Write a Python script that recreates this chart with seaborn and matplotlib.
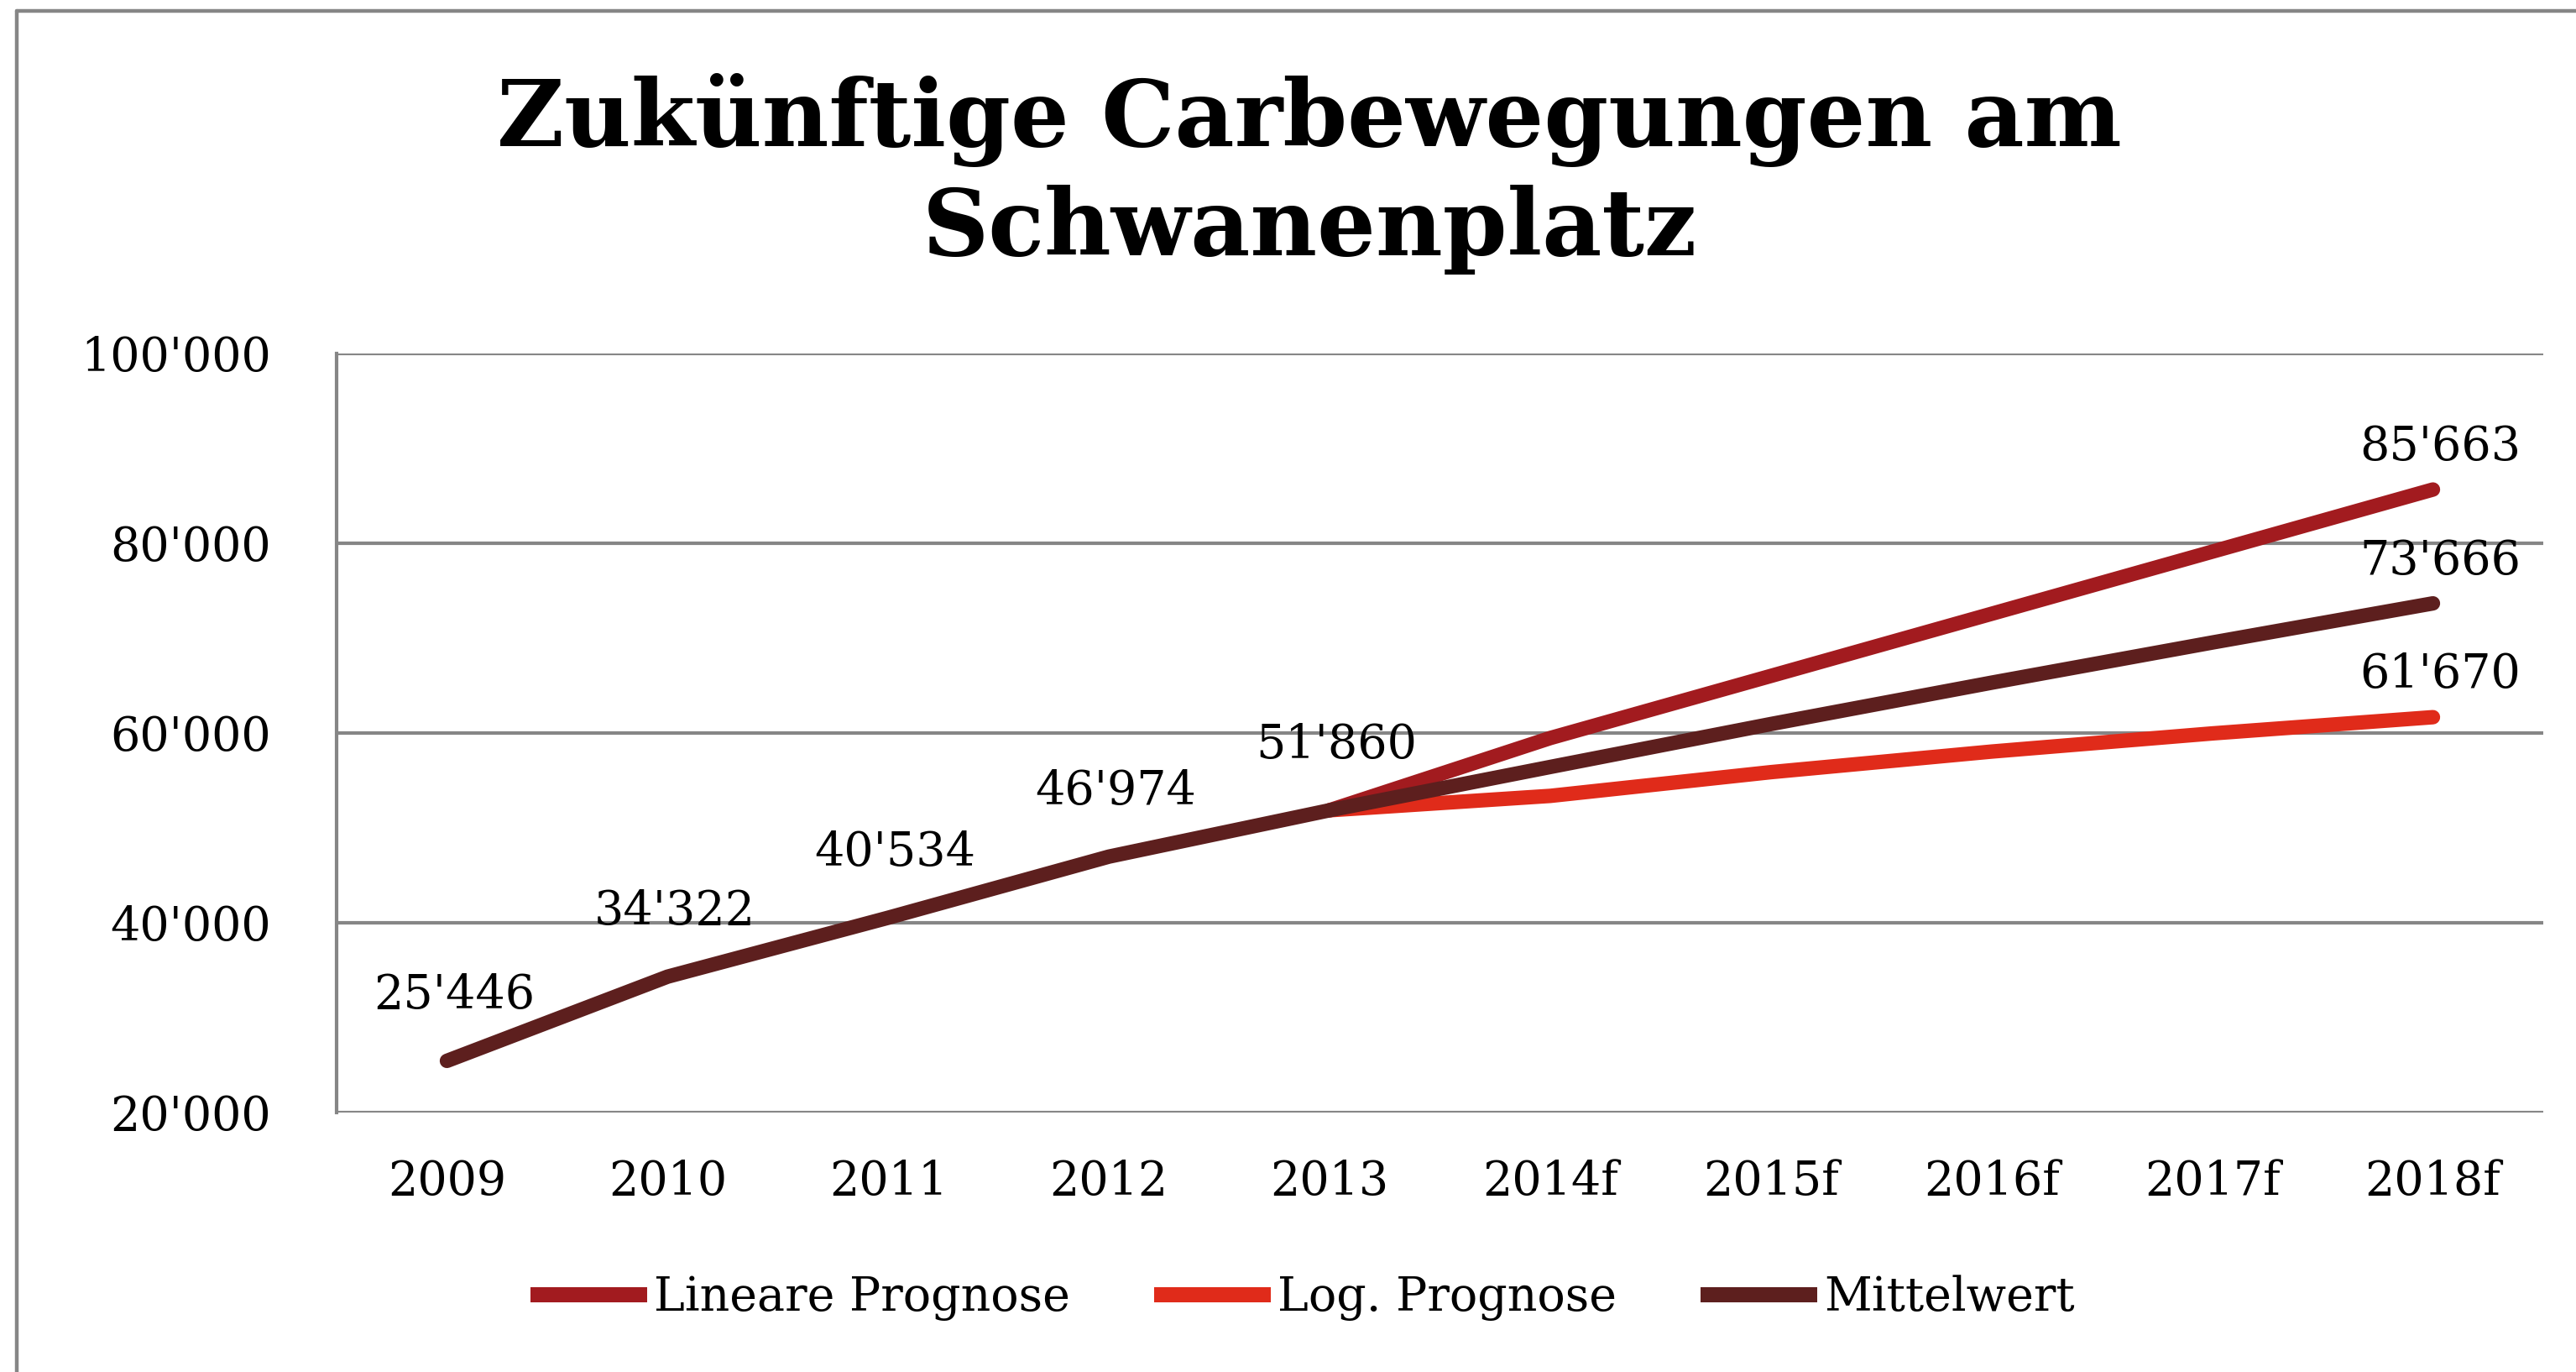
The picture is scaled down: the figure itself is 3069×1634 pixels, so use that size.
import matplotlib
matplotlib.use("Agg")
import matplotlib.pyplot as plt
from matplotlib.lines import Line2D
import numpy as np
import pandas as pd
import seaborn as sns

# values
years = ["2009", "2010", "2011", "2012", "2013", "2014f", "2015f", "2016f", "2017f", "2018f"]
history = [25446, 34322, 40534, 46974, 51860]
linear_fc = [51860, 59471, 66019, 72567, 79115, 85663]
log_fc = [51860, 53375, 55877, 58045, 59958, 61670]
mean_fc = [51860, 56423, 60948, 65306, 69537, 73666]

series_names = ["Lineare Prognose", "Log. Prognose", "Mittelwert"]
colors = ["#A21B1F", "#E02B1A", "#5D1F1E"]
ytick_vals = [20000, 40000, 60000, 80000, 100000]


def fmt(v):
    return "{:,}".format(int(v)).replace(",", "'")


# long form table for seaborn
rows = []
start = len(history) - 1
for name, vals in zip(series_names, [linear_fc, log_fc, mean_fc]):
    for i, v in enumerate(vals):
        rows.append({"pos": start + i, "Wert": v, "Serie": name})
for i, v in enumerate(history[:-1]):
    rows.append({"pos": i, "Wert": v, "Serie": "Mittelwert"})
df = pd.DataFrame(rows)

sns.set_theme(style="white")
plt.rcParams["font.family"] = ["DejaVu Serif"]
plt.rcParams["text.color"] = "black"
plt.rcParams["xtick.color"] = "black"
plt.rcParams["ytick.color"] = "black"

DPI = 200
fig = plt.figure(figsize=(3069 / DPI, 1634 / DPI), dpi=DPI)
ax = fig.add_axes([401 / 3069, 1 - 1325 / 1634, (3030 - 401) / 3069, (1325 - 421) / 1634])

sns.lineplot(data=df, x="pos", y="Wert", hue="Serie", hue_order=series_names,
             palette=colors, linewidth=6.2, sort=True, legend=False, ax=ax,
             solid_capstyle="round")

ax.set_xlim(-0.5, len(years) - 0.5)
ax.set_ylim(20000, 100000)
ax.set_xticks(range(len(years)))
ax.set_xticklabels(years, fontsize=20, color="black")
ax.set_yticks(ytick_vals)
ax.set_yticklabels([fmt(v) for v in ytick_vals], fontsize=20, color="black")
ax.tick_params(axis="x", length=0, pad=20)
ax.tick_params(axis="y", length=0, pad=28)
ax.set_xlabel("")
ax.set_ylabel("")

grid_col = "#868686"
ax.grid(axis="y", color=grid_col, linewidth=1.5)
ax.grid(axis="x", visible=False)
ax.set_axisbelow(True)
for side in ["top", "right", "bottom"]:
    ax.spines[side].set_visible(False)
ax.spines["left"].set_color(grid_col)
ax.spines["left"].set_linewidth(1.5)

# data labels
for i, v in enumerate(history):
    ax.annotate(fmt(v), (i, v), xytext=(3, 28), textcoords="offset points",
                ha="center", va="center", fontsize=20, color="black")
last = len(years) - 1
for vals in [linear_fc, mean_fc, log_fc]:
    ax.annotate(fmt(vals[-1]), (last, vals[-1]), xytext=(3, 18), textcoords="offset points",
                ha="center", va="center", fontsize=20, color="black")

handles = [Line2D([0], [0], color=c, lw=6.5, solid_capstyle="butt") for c in colors]
fig.legend(handles, series_names, loc="center", bbox_to_anchor=(1552 / 3069, 1 - 1546 / 1634),
           ncol=3, frameon=False, fontsize=20, handlelength=2.5, handletextpad=0.15,
           columnspacing=1.8, labelcolor="black")

fig.text(1560 / 3069, 1 - 207 / 1634, "Zukünftige Carbewegungen am\nSchwanenplatz",
         ha="center", va="center", fontsize=39.5, fontweight="bold", linespacing=1.25,
         color="black")

# outer chart frame (cut off right and bottom)
fig.add_artist(Line2D([20 / 3069, 1], [1 - 13 / 1634, 1 - 13 / 1634],
                      transform=fig.transFigure, color=grid_col, lw=1.6))
fig.add_artist(Line2D([20 / 3069, 20 / 3069], [0, 1 - 13 / 1634],
                      transform=fig.transFigure, color=grid_col, lw=1.6))

fig.savefig("out.png", dpi=DPI, facecolor="white")
